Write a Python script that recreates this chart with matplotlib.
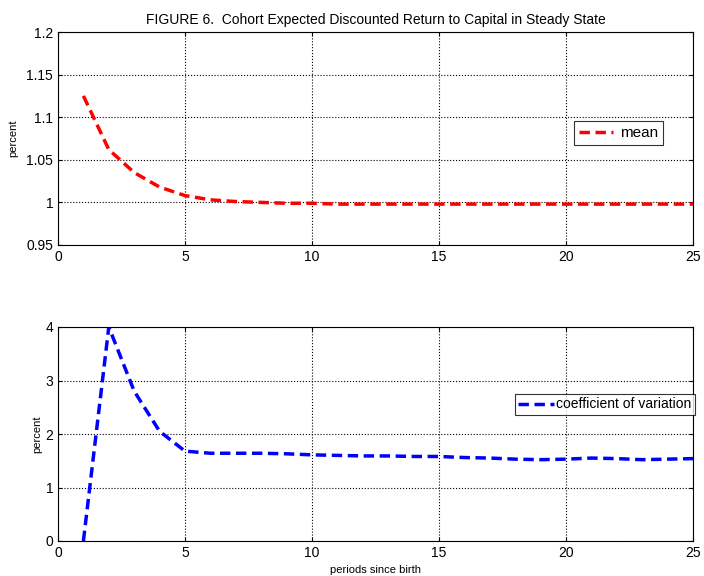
import matplotlib.pyplot as plt

plt.rcParams['font.family'] = ['Liberation Sans', 'DejaVu Sans']

periods = list(range(1, 26))
mean_ret = [1.125, 1.062, 1.035, 1.018, 1.008, 1.003, 1.001, 1.000, 0.999, 0.999,
            0.998, 0.998, 0.998, 0.998, 0.998, 0.998, 0.998, 0.998, 0.998, 0.998,
            0.998, 0.998, 0.998, 0.998, 0.998]
cv_ret = [0.0, 4.0, 2.8, 2.05, 1.68, 1.64, 1.64, 1.64, 1.63, 1.61,
          1.60, 1.59, 1.59, 1.58, 1.58, 1.56, 1.55, 1.53, 1.52, 1.53,
          1.55, 1.54, 1.52, 1.53, 1.54]

fig = plt.figure(figsize=(7.04, 5.76), dpi=100)
ax1 = fig.add_axes([58/704, 1-245/576, 635/704, 213/576])
ax2 = fig.add_axes([58/704, 1-541/576, 635/704, 214/576])

def style(ax):
    ax.grid(True, linestyle=':', color='black', linewidth=0.8)
    ax.tick_params(direction='in', top=True, right=True, labelsize=10, length=3)
    for s in ax.spines.values():
        s.set_linewidth(0.8)
    ax.set_xlim(0, 25)
    ax.set_xticks([0, 5, 10, 15, 20, 25])

# top panel: mean
ax1.plot(periods, mean_ret, '--', color='red', linewidth=2.5, label='mean', dashes=(3, 1.6))
style(ax1)
ax1.set_ylim(0.95, 1.2)
ax1.set_yticks([0.95, 1, 1.05, 1.1, 1.15, 1.2])
ax1.set_yticklabels(['0.95', '1', '1.05', '1.1', '1.15', '1.2'])
ax1.set_ylabel('percent', fontsize=8, labelpad=6)
ax1.set_title('FIGURE 6.  Cohort Expected Discounted Return to Capital in Steady State', fontsize=10, pad=6)
leg1 = ax1.legend(loc='center right', bbox_to_anchor=(663/704, 1-133/576),
                  bbox_transform=fig.transFigure, borderaxespad=0, fontsize=11,
                  frameon=True, fancybox=False, edgecolor='black', handlelength=2.2,
                  borderpad=0.3, handletextpad=0.5)
leg1.get_frame().set_linewidth(0.8)

# bottom panel: coefficient of variation
ax2.plot(periods, cv_ret, '--', color='blue', linewidth=2.5, label='coefficient of variation', dashes=(3, 1.6))
style(ax2)
ax2.set_ylim(0, 4)
ax2.set_yticks([0, 1, 2, 3, 4])
ax2.set_ylabel('percent', fontsize=8, labelpad=2)
ax2.set_xlabel('periods since birth', fontsize=8, labelpad=4)
leg2 = ax2.legend(loc='center right', bbox_to_anchor=(695/704, 1-404.5/576),
                  bbox_transform=fig.transFigure, borderaxespad=0, fontsize=10,
                  frameon=True, fancybox=False, edgecolor='black', handlelength=2.6,
                  borderpad=0.25, handletextpad=0.15)
leg2.get_frame().set_linewidth(0.8)

fig.savefig('out.png', dpi=100)
